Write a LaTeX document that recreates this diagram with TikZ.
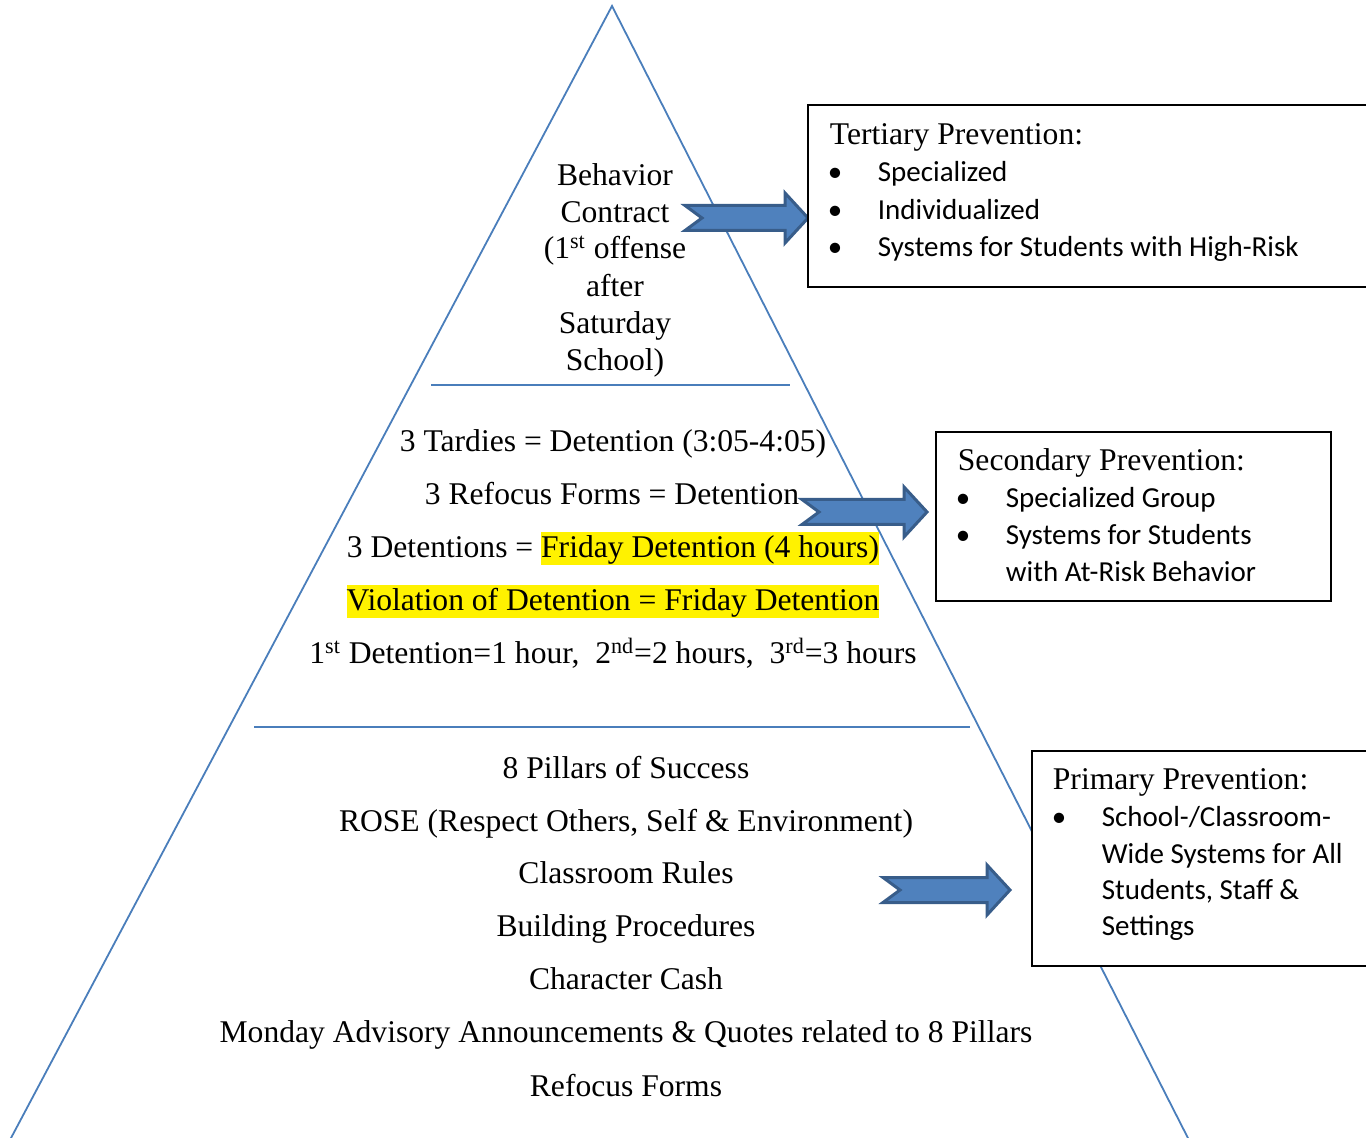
\documentclass[tikz,border=0pt]{standalone}
\usepackage{fontspec}
\setmainfont{Liberation Serif}
\newfontfamily\calibri{Carlito}
\definecolor{pyrblue}{HTML}{4A7EBB}
\definecolor{arrfill}{HTML}{4F81BD}
\definecolor{arrline}{HTML}{385D8A}
\newcommand{\hilite}[1]{{\setlength{\fboxsep}{0pt}\colorbox{yellow}{\rule[-3.5pt]{0pt}{16.5pt}#1}}}
\tikzset{
  tier/.style={font=\fontsize{15.8}{18.5}\selectfont,anchor=base,inner sep=0pt},
  boxtitle/.style={font=\fontsize{15.8}{18.5}\selectfont,anchor=base west,inner sep=0pt},
  bul/.style={font=\calibri\fontsize{14.5}{18.7}\selectfont,anchor=base west,inner sep=0pt},
  dotmark/.style={font=\calibri\fontsize{14.5}{18.7}\selectfont,anchor=base,inner sep=0pt},
  prevbox/.style={draw=black,line width=1pt,fill=white,inner sep=0pt},
  pics/notchedarrow/.style={code={
    \draw[draw=arrline,fill=arrfill,line width=1.5pt,line join=miter]
      (0,-12.5) -- (#1-23,-12.5) -- (#1-23,-25) -- (#1,0) -- (#1-23,25)
      -- (#1-23,12.5) -- (0,12.5) -- (17,0) -- cycle;}}
}
\begin{document}
\begin{tikzpicture}[x=0.5pt,y=-0.5pt,line width=0.9pt]
\useasboundingbox (0,0) rectangle (1366,1138);
\clip (0,0) rectangle (1366,1138);
% pyramid
\coordinate (apex) at (612,6);
\coordinate (botleft) at (7.3,1145);
\coordinate (botright) at (1191.5,1145);
\draw[pyrblue] (botleft) -- (apex) -- (botright);
\coordinate (cut1l) at (431,385);
\coordinate (cut1r) at (790,385);
\coordinate (cut2l) at (254,727);
\coordinate (cut2r) at (970,727);
\draw[pyrblue] (cut1l) -- (cut1r);
\draw[pyrblue] (cut2l) -- (cut2r);
% top tier
\node[tier] (top1) at (615,186) {Behavior};
\node[tier] (top2) at (615,223) {Contract};
\node[tier] (top3) at (615,259) {(1\textsuperscript{st} offense};
\node[tier] (top4) at (615,297) {after};
\node[tier] (top5) at (615,334) {Saturday};
\node[tier] (top6) at (615,371) {School)};
% middle tier
\node[tier] (mid1) at (613,452) {3 Tardies = Detention (3:05-4:05)};
\node[tier] (mid2) at (612,505) {3 Refocus Forms = Detention};
\node[tier] (mid3) at (613,558) {3 Detentions = \hilite{Friday Detention (4 hours)}};
\node[tier] (mid4) at (613,611) {\hilite{Violation of Detention = Friday Detention}};
\node[tier] (mid5) at (613,664) {1\textsuperscript{st} Detention=1 hour,\ \ 2\textsuperscript{nd}=2 hours,\ \ 3\textsuperscript{rd}=3 hours};
% bottom tier
\node[tier] (base1) at (626,778) {8 Pillars of Success};
\node[tier] (base2) at (626,831) {ROSE (Respect Others, Self \& Environment)};
\node[tier] (base3) at (626,883) {Classroom Rules};
\node[tier] (base4) at (626,936) {Building Procedures};
\node[tier] (base5) at (626,989) {Character Cash};
\node[tier] (base6) at (626,1042) {Monday Advisory Announcements \& Quotes related to 8 Pillars};
\node[tier] (base7) at (626,1096) {Refocus Forms};
% arrows
\pic at (685,218) {notchedarrow=123};
\pic at (802,512) {notchedarrow=125};
\pic at (883,890) {notchedarrow=127};
% tertiary
\node[prevbox,minimum width=286pt,minimum height=91pt] (tertbox) at (1094,196) {};
\node[boxtitle] (terttitle) at (829,145) {Tertiary Prevention:};
\node[dotmark] (tdot1) at (835,182) {•};
\node[dotmark] (tdot2) at (835,220) {•};
\node[dotmark] (tdot3) at (835,257) {•};
\node[bul] (titem1) at (877,182) {Specialized};
\node[bul] (titem2) at (877,220) {Individualized};
\node[bul] (titem3) at (877,257) {Systems for Students with High-Risk};
% secondary
\node[prevbox,minimum width=197.5pt,minimum height=84.5pt] (secbox) at (1133.5,516.5) {};
\node[boxtitle] (sectitle) at (957,471) {Secondary Prevention:};
\node[dotmark] (sdot1) at (963,508) {•};
\node[dotmark] (sdot2) at (963,545) {•};
\node[bul] (sitem1) at (1005,508) {Specialized Group};
\node[bul] (sitem2) at (1005,545) {Systems for Students};
\node[bul] (sitem3) at (1005,582) {with At-Risk Behavior};
% primary
\node[prevbox,minimum width=174pt,minimum height=107.5pt] (primbox) at (1206,858.5) {};
\node[boxtitle] (primtitle) at (1052,790) {Primary Prevention:};
\node[dotmark] (pdot1) at (1059,827) {•};
\node[bul] (pitem1) at (1101,827) {School-/Classroom-};
\node[bul] (pitem2) at (1101,863) {Wide Systems for All};
\node[bul] (pitem3) at (1101,899) {Students, Staff \&};
\node[bul] (pitem4) at (1101,935) {Settings};
\end{tikzpicture}
\end{document}
